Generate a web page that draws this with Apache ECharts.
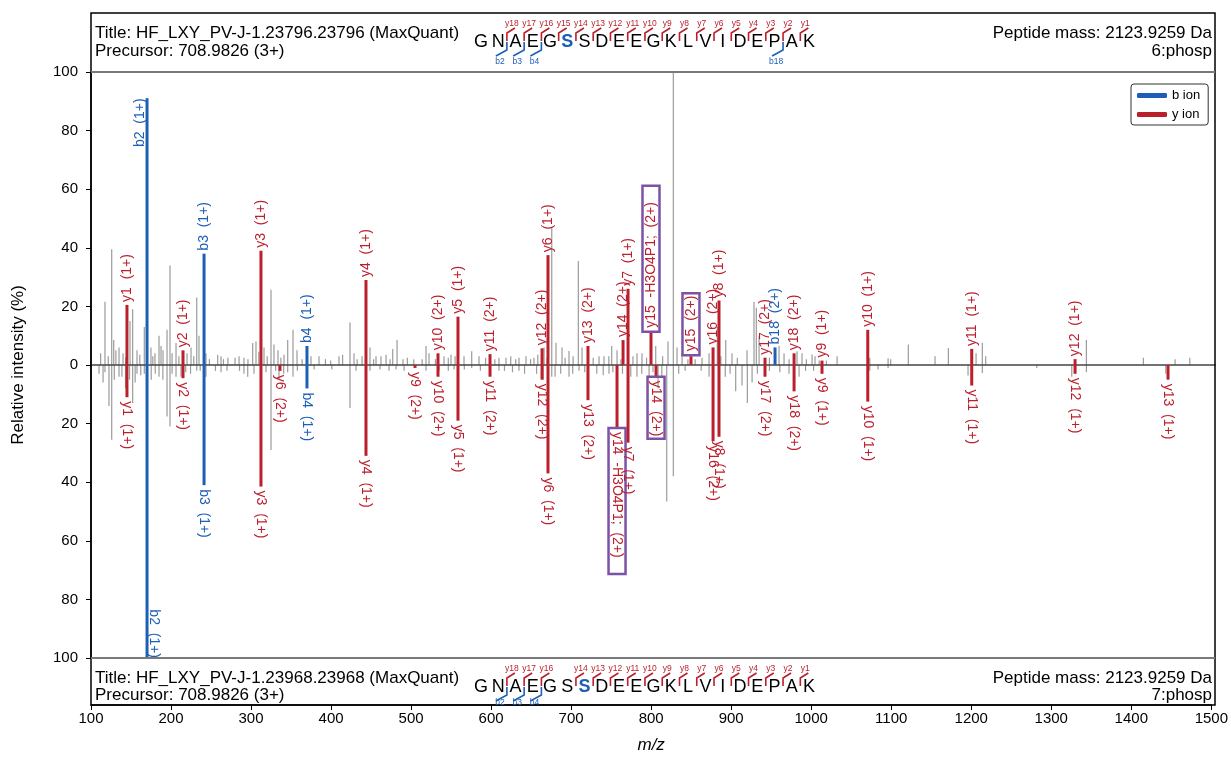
<!DOCTYPE html>
<html><head><meta charset="utf-8">
<script src="https://cdn.jsdelivr.net/npm/echarts@6/dist/echarts.min.js"></script>
<style>html,body{margin:0;padding:0;background:#fff}#c{width:1231px;height:779px}</style>
</head><body><div id="c"></div>
<script>
// ---------------- data ----------------
const sequence = ['G','N','A','E','G','S','S','D','E','E','G','K','L','V','I','D','E','P','A','K'];
const topPhosphoIndex = 5;
const botPhosphoIndex = 6;
const topYIons = [18,17,16,15,14,13,12,11,10,9,8,7,6,5,4,3,2,1];
const topBIons = [2,3,4,18];
const botYIons = [18,17,16,14,13,12,11,10,9,8,7,6,5,4,3,2,1];
const botBIons = [2,3,4];

const topTitle = 'Title: HF_LXY_PV-J-1.23796.23796 (MaxQuant)';
const topPrecursor = 'Precursor: 708.9826 (3+)';
const topMass = 'Peptide mass: 2123.9259 Da';
const topMod = '6:phosp';
const botTitle = 'Title: HF_LXY_PV-J-1.23968.23968 (MaxQuant)';
const botPrecursor = 'Precursor: 708.9826 (3+)';
const botMass = 'Peptide mass: 2123.9259 Da';
const botMod = '7:phosp';

const xTicks = [100,200,300,400,500,600,700,800,900,1000,1100,1200,1300,1400,1500];
const yTicks = [-100,-80,-60,-40,-20,0,20,40,60,80,100];

// unannotated peaks, upper spectrum (m/z, relative intensity %)
const noiseTopMz = [117.4,125.8,128.3,134.9,139.9,148.6,151.9,157.3,166.4,174.7,
179.7,184.7,189.7,194.7,198.4,205.9,219.6,224.6,231.7,234.5,
243.2,257.8,261.9,279.4,284.4,290.6,301.4,305.5,315.5,324.2,
327.9,332.9,340.4,345.0,351.6,356.6,374.0,384.0,408.9,413.4,
422.6,427.6,437.6,447.5,455.0,461.2,467.5,475.8,481.2,488.6,
517.3,521.0,539.7,548.4,564.6,574.2,583.3,608.2,616.9,622.8,
633.1,641.8,651.8,664.3,673.9,679.2,686.7,695.4,707.0,711.6,
732.8,739.0,748.6,755.2,780.1,786.3,803.4,818.7,825.3,829.9,
836.2,861.1,869.8,880.1,890.6,898.4,917.1,925.8,928.7,932.1,
957.0,963.2,979.4,985.6,998.1,1001.8,1029.3,1070.0,1092.8,1096.1,
1118.0,1151.3,1167.9,1202.4,1210.2,1214.4,1339.8,1410.8,1450.3,1468.6,
112.0,121.5,131.0,143.2,160.8,177.0,187.2,201.0,209.5,228.0,
247.5,265.0,270.5,295.5,309.0,319.5,336.5,363.0,392.0,398.5,
431.5,452.0,472.5,494.0,502.0,512.5,529.0,545.0,553.5,591.5,
603.0,629.0,647.5,656.5,668.0,690.5,700.5,725.5,745.0,760.0,
775.0,792.0,812.0,843.5,852.5,884.5,905.0,945.0,969.5,991.0,1007.0,1016.0];
const noiseTopInt = [21.6,39.5,8.5,6,4,15,19,5,13,6,
4,10,5,12,34,7.5,4,6,23,10,
4,3.5,3,2.5,3,2.5,7.5,8,6,25.7,
7,5,3.5,8.5,12,5,3,3,3,3.5,
14.5,4,3,6,3,3,3.5,5.5,8.5,2,
6.5,4,3,3.5,3,4.7,3,2.5,2.5,3,
2.5,3,2.5,6,47,7.6,6,4.8,35.5,6,
3,3,6.5,5,4,4,6.5,8,100,6,
4,2.5,4,13,8.5,4,5,21.6,19.5,10,
6.5,4,4.7,4,3.6,3,3,2.5,2.3,2,
7,3,5.8,4,7.6,3,8.5,2.5,2,2.5,
4,3,5,2.5,3.5,3,6.5,4,3,3,
2,2,2.5,2,4.5,3,2.5,2,2,1.5,
2,2,2,2.5,2,2,2,2.5,3,2.5,
2,2,2,3.5,2.5,2.5,3,2.5,3,2,
3,2.5,3,2,2,3,2.5,2.5,2,2,1.5,1.5];

// unannotated peaks, lower (mirrored) spectrum
const noiseBotMz = [117.4,122.4,125.8,134.9,151.9,157.3,166.4,184.7,194.7,198.4,
205.9,212.1,231.7,243.2,269.4,295.2,303.0,324.2,334.2,351.6,
422.6,447.5,471.2,517.3,533.5,552.2,574.2,608.2,633.1,663.0,
673.9,695.4,707.9,745.2,772.3,795.1,806.3,817.1,825.3,869.8,
903.0,910.9,917.5,923.4,969.4,981.9,1070.0,1080.3,1092.8,1192.4,
1210.2,1278.0,1321.6,1339.8,1438.7,
110.0,115.0,129.0,138.5,143.0,148.0,155.0,162.0,175.0,180.0,
189.5,201.0,218.0,224.0,236.0,255.0,262.0,285.0,290.5,318.0,
330.0,340.0,345.0,357.0,378.0,400.0,430.0,460.0,480.0,490.0,
545.0,565.0,585.0,615.0,625.0,640.0,655.0,678.0,685.0,700.0,
715.0,730.0,738.0,750.0,762.0,780.0,786.0,800.0,811.0,832.0,
840.0,860.0,890.0,896.0,930.0,945.0,958.0,990.0,1000.0];
const noiseBotInt = [2.5,14,25.5,4,13,3,3,4,17.6,21,
4,4,2,4,2,4,3,29,5,4,
14.7,2,2,2,2,1.5,1,2,2,5,
4,4,2,3,4,4,8,46.6,38,4,
9,7,13,6,3,4,2,1.5,1,3.6,
2.7,1,4,2.5,3,
3,6,5,4,8,5,6,3.5,5,3,
5,3,2.5,3,2,2,2.5,2,3,2.5,
2,3,2.5,2,1.5,1.5,2,1.5,1.5,2,
2,1.5,2,2,2.5,3,3,4,3,3,
2.5,3,3.5,2.5,3,4,3,2.5,4,3,
2,2,4,3,3,2,2.5,2,2];

// annotated fragment peaks (positive = upper spectrum, negative = lower spectrum)
const annLabel = ['y1 (1+)','b2 (1+)','y2 (1+)','b3 (1+)','y3 (1+)','b4 (1+)','y4 (1+)','y10 (2+)','y5 (1+)','y11 (2+)',
'y12 (2+)','y6 (1+)','y13 (2+)','y14 (2+)','y7 (1+)','y15 -H3O4P1; (2+)','y15 (2+)','y16 (2+)','y8 (1+)','y17 (2+)',
'b18 (2+)','y18 (2+)','y9 (1+)','y10 (1+)','y11 (1+)','y12 (1+)',
'y1 (1+)','b2 (1+)','y2 (1+)','b3 (1+)','y3 (1+)','y6 (2+)','b4 (1+)','y4 (1+)','y9 (2+)','y10 (2+)',
'y5 (1+)','y11 (2+)','y12 (2+)','y6 (1+)','y13 (2+)','y14 -H3O4P1; (2+)','y7 (1+)','y14 (2+)','y16 (2+)','y8 (1+)',
'y17 (2+)','y18 (2+)','y9 (1+)','y10 (1+)','y11 (1+)','y12 (1+)','y13 (1+)'];
const annType = ['y','b','y','b','y','b','y','y','y','y',
'y','y','y','y','y','y','y','y','y','y',
'b','y','y','y','y','y',
'y','b','y','b','y','y','b','y','y','y',
'y','y','y','y','y','y','y','y','y','y',
'y','y','y','y','y','y','y'];
const annMz = [144.8,169.8,214.6,240.8,311.7,369.0,442.5,532.2,557.1,597.0,
661.8,669.2,719.0,762.7,768.9,797.5,847.3,874.8,882.2,939.5,
952.0,975.7,1010.5,1067.5,1197.0,1325.7,
144.8,169.8,214.6,240.8,311.7,335.4,369.0,442.5,503.6,532.2,
557.1,597.0,661.8,669.2,719.0,755.2,768.9,803.8,874.8,882.2,
939.5,975.7,1010.5,1067.5,1197.0,1325.7,1441.5];
const annInt = [20.5,91,5,38,39,6.5,29,4,16.5,3.7,
5.7,37.5,6.5,8.5,26,11,3,6,22,2.5,
6,4,1.5,12,5.5,2,
-11,-100,-4.5,-41,-41.5,-2,-8,-31,-1,-4,
-19,-4,-5,-37,-12,-21.5,-26.5,-4,-26,-24.5,
-4,-9,-3,-12.5,-7,-3,-5];
const annBoxed = [0,0,0,0,0,0,0,0,0,0, 0,0,0,0,0,1,1,0,0,0, 0,0,0,0,0,0,
0,0,0,0,0,0,0,0,0,0, 0,0,0,0,0,1,0,1,0,0, 0,0,0,0,0,0,0];

// ---------------- style ----------------
const RED = '#bb1f2c', BLUE = '#1d5fb6', GRAY = '#9b9b9b', PURPLE = '#7b52a6';
const FONT = 'Arial, "Liberation Sans", sans-serif';
const L = 91, R = 1215, T0 = 13, PT = 72, PB = 658, B0 = 705;

const mctx = document.createElement('canvas').getContext('2d');
function tw(text, size) { mctx.font = size + 'px ' + FONT; return mctx.measureText(text).width; }

function renderNoise(params, api) {
  const mz = api.value(0), v = api.value(1);
  const p0 = api.coord([mz, 0]), p1 = api.coord([mz, v]);
  return { type: 'line', shape: { x1: p0[0], y1: p0[1], x2: p1[0], y2: p1[1] },
    style: { stroke: GRAY, lineWidth: 1.2 } };
}

function renderIon(params, api) {
  const mz = api.value(0), v = api.value(1), idx = api.value(2);
  const p0 = api.coord([mz, 0]), p1 = api.coord([mz, v]);
  const color = annType[idx] === 'b' ? BLUE : RED;
  const text = annLabel[idx].replace(/ /g, '  ');
  const boxed = annBoxed[idx] === 1;
  const cs = params.coordSys;
  const textW = tw(text, 14);
  let padEnd = 2;
  if (boxed) padEnd = Math.max(2, 9.33 * annLabel[idx].length - 12.7 - textW - 4);
  const w = textW + (boxed ? 4 + padEnd : 0);
  let tx = p1[0], ty, rot, align = 'left';
  if (v > 0) {
    rot = Math.PI / 2; ty = p1[1] - (boxed ? 1 : 3);
    if (ty - w < cs.y) { tx = p1[0] - 7; ty = p1[1]; align = 'right'; }
  } else {
    rot = -Math.PI / 2; ty = p1[1] + (boxed ? 0 : 4);
    if (ty + w > cs.y + cs.height) { tx = p1[0] + 7; ty = p1[1]; align = 'right'; }
  }
  const style = { text: text, fill: color, font: '14px ' + FONT, align: align, verticalAlign: 'middle',
    textAlign: align, textVerticalAlign: 'middle', x: 0, y: 0 };
  if (boxed) { style.borderColor = PURPLE; style.borderWidth = 2.5; style.padding = [2, padEnd, 1, 4]; }
  return { type: 'group', children: [
    { type: 'line', shape: { x1: p0[0], y1: p0[1], x2: p1[0], y2: p1[1] },
      style: { stroke: color, lineWidth: 3 } },
    { type: 'text', x: tx, y: ty, rotation: rot, style: style }
  ] };
}

const ionData = { b: [], y: [] };
annMz.forEach((m, i) => ionData[annType[i]].push([m, annInt[i], i]));
const noiseData = noiseTopMz.map((m, i) => [m, noiseTopInt[i]])
  .concat(noiseBotMz.map((m, i) => [m, -noiseBotInt[i]]));

// ---------------- header graphics ----------------
const graphics = [];
function txt(s, x, y, opt) {
  graphics.push({ type: 'text', silent: true, z: 100, style: Object.assign({
    text: s, x: x, y: y, fill: '#000', font: '17px ' + FONT,
    align: 'left', verticalAlign: 'middle', textAlign: 'left', textVerticalAlign: 'middle' }, opt || {}) });
}
function line(pts, color, w) {
  graphics.push({ type: 'polyline', silent: true, z: 100, shape: { points: pts },
    style: { stroke: color, lineWidth: w || 1.5, fill: null } });
}
const seqX0 = 481, seqDx = 17.26;
function seqX(i) { return seqX0 + i * seqDx; }
function drawSequence(yL, phos, yIons, bIons, bOff) {
  sequence.forEach((aa, i) => {
    txt(aa, seqX(i), yL, { align: 'center', textAlign: 'center',
      font: (i === phos ? 'bold ' : '') + '18px ' + FONT, fill: i === phos ? BLUE : '#000' });
  });
  const n = sequence.length;
  yIons.forEach(k => {
    const xb = (seqX(n - k - 1) + seqX(n - k)) / 2;
    line([[xb, yL - 1], [xb, yL - 9], [xb + 8, yL - 14]], RED, 1.6);
    txt('y' + k, xb + 5, yL - 18, { align: 'center', textAlign: 'center', fill: RED, font: '8.5px ' + FONT });
  });
  bIons.forEach(k => {
    const xb = (seqX(k - 1) + seqX(k)) / 2;
    line([[xb, yL], [xb, yL + 8], [xb - 11, yL + 14]], BLUE, 1.6);
    txt('b' + k, xb - 7, yL + bOff, { align: 'center', textAlign: 'center', fill: BLUE, font: '8.5px ' + FONT });
  });
}
// frame
graphics.push({ type: 'rect', silent: true, z: 90, shape: { x: L, y: T0, width: R - L, height: B0 - T0 },
  style: { fill: null, stroke: '#000', lineWidth: 1.5 } });
graphics.push({ type: 'line', silent: true, z: 91, shape: { x1: L, y1: PT, x2: R, y2: PT }, style: { stroke: '#7a7a7a', lineWidth: 2 } });
graphics.push({ type: 'line', silent: true, z: 91, shape: { x1: L, y1: PB, x2: R, y2: PB }, style: { stroke: '#7a7a7a', lineWidth: 2 } });

txt(topTitle, 95, 33); txt(topPrecursor, 95, 51);
txt(topMass, 1212, 33, { align: 'right', textAlign: 'right' }); txt(topMod, 1212, 51, { align: 'right', textAlign: 'right' });
txt(botTitle, 95, 678); txt(botPrecursor, 95, 695);
txt(botMass, 1212, 678, { align: 'right', textAlign: 'right' }); txt(botMod, 1212, 695, { align: 'right', textAlign: 'right' });
drawSequence(42, topPhosphoIndex, topYIons, topBIons, 20);
drawSequence(687, botPhosphoIndex, botYIons, botBIons, 16);

// ---------------- chart ----------------
const chart = echarts.init(document.getElementById('c'), null, { renderer: 'canvas' });
chart.setOption({
  animation: false,
  backgroundColor: '#fff',
  textStyle: { fontFamily: FONT },
  grid: [
    { left: L, right: 1231 - R, top: PT, height: PB - PT },
    { left: L, right: 1231 - R, top: PB, height: B0 - PB }
  ],
  legend: {
    data: ['b ion', 'y ion'], orient: 'vertical', left: 1131, top: 84,
    icon: 'roundRect', itemWidth: 30, itemHeight: 5, itemGap: 6,
    borderColor: '#333', borderWidth: 1, borderRadius: 3, padding: [5, 8, 4, 6],
    backgroundColor: '#fff',
    textStyle: { fontSize: 13, color: '#000', fontFamily: FONT }
  },
  xAxis: [
    { gridIndex: 0, type: 'value', min: xTicks[0], max: xTicks[xTicks.length - 1], interval: 100,
      axisLine: { show: true, onZero: true, lineStyle: { color: '#444', width: 1.5 } },
      axisTick: { show: false }, axisLabel: { show: false }, splitLine: { show: false }, z: 2 },
    { gridIndex: 1, type: 'value', min: xTicks[0], max: xTicks[xTicks.length - 1], interval: 100,
      position: 'bottom',
      axisLine: { show: true, onZero: false, lineStyle: { color: '#000', width: 1.5 } },
      axisTick: { show: true, length: 5, lineStyle: { color: '#000' } },
      axisLabel: { show: true, fontSize: 15, color: '#000', margin: 6, fontFamily: FONT,
        formatter: v => String(v) },
      splitLine: { show: false },
      name: 'm/z', nameLocation: 'middle', nameGap: 32,
      nameTextStyle: { fontSize: 17, fontStyle: 'italic', color: '#000', fontFamily: FONT } }
  ],
  yAxis: [
    { gridIndex: 0, type: 'value', min: yTicks[0], max: yTicks[yTicks.length - 1], interval: 20,
      axisLine: { show: true, lineStyle: { color: '#000', width: 1.5 } },
      axisTick: { show: true, length: 5, lineStyle: { color: '#000' } },
      axisLabel: { fontSize: 15, color: '#000', margin: 13, fontFamily: FONT,
        formatter: v => String(Math.abs(v)) },
      splitLine: { show: false },
      name: 'Relative intensity (%)', nameLocation: 'middle', nameGap: 64,
      nameTextStyle: { fontSize: 17, color: '#000', fontFamily: FONT } },
    { gridIndex: 1, type: 'value', min: 0, max: 1, show: false }
  ],
  series: [
    { type: 'custom', name: 'noise', coordinateSystem: 'cartesian2d', xAxisIndex: 0, yAxisIndex: 0,
      renderItem: renderNoise, data: noiseData, z: 1, clip: false, silent: true,
      encode: { x: 0, y: 1 } },
    { type: 'custom', name: 'y ion', coordinateSystem: 'cartesian2d', xAxisIndex: 0, yAxisIndex: 0,
      renderItem: renderIon, data: ionData.y, z: 3, clip: false, itemStyle: { color: RED },
      encode: { x: 0, y: 1 } },
    { type: 'custom', name: 'b ion', coordinateSystem: 'cartesian2d', xAxisIndex: 0, yAxisIndex: 0,
      renderItem: renderIon, data: ionData.b, z: 4, clip: false, itemStyle: { color: BLUE },
      encode: { x: 0, y: 1 } }
  ],
  graphic: { elements: graphics }
});
</script></body></html>
